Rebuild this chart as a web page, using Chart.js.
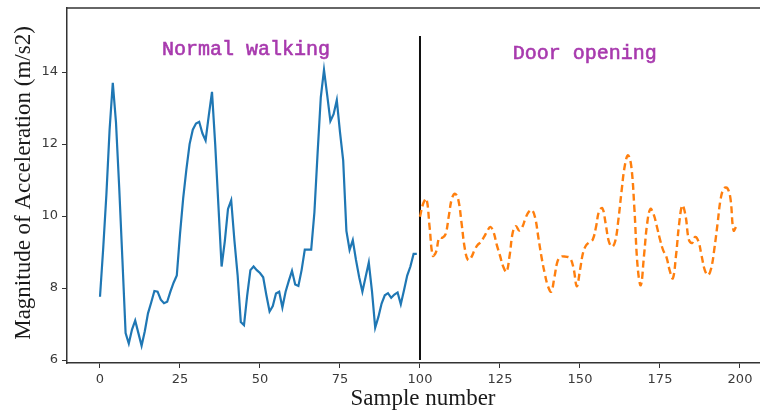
<!DOCTYPE html>
<html>
<head>
<meta charset="utf-8">
<script src="https://cdn.jsdelivr.net/npm/chart.js@4.4.1/dist/chart.umd.min.js"></script>
<style>
  html, body { margin: 0; padding: 0; background: #fff; }
  canvas { display: block; }
</style>
</head>
<body>
<canvas id="accChart" width="760" height="415"></canvas>
<script>
// acceleration magnitude, samples 0-99 (normal walking)
const walkStart = 0;
const walkValues = [
  7.76, 9.1, 10.6, 12.4, 13.7, 12.6, 10.8, 8.8, 6.75, 6.46,
  6.85, 7.1, 6.75, 6.4, 6.8, 7.3, 7.6, 7.92, 7.9, 7.68,
  7.58, 7.62, 7.9, 8.15, 8.35, 9.5, 10.5, 11.3, 12.0, 12.4,
  12.57, 12.62, 12.3, 12.1, 12.8, 13.45, 12.0, 10.3, 8.6, 9.3,
  10.2, 10.44, 9.33, 8.37, 7.06, 6.97, 7.8, 8.5, 8.6, 8.5,
  8.42, 8.3, 7.8, 7.35, 7.5, 7.85, 7.9, 7.46, 7.9, 8.2,
  8.48, 8.1, 8.06, 8.5, 9.07, 9.07, 9.07, 10.1, 11.75, 13.3,
  14.06, 13.36, 12.64, 12.83, 13.22, 12.33, 11.54, 9.59, 9.06, 9.33,
  8.78, 8.3, 7.9, 8.31, 8.71, 7.91, 6.9, 7.2, 7.57, 7.8,
  7.86, 7.73, 7.82, 7.88, 7.55, 7.94, 8.35, 8.6, 8.95, 8.95
];

// acceleration magnitude, samples 100-199 (door opening)
const doorStart = 100;
const doorValues = [
  9.98, 10.35, 10.48, 9.7, 8.9, 9.0, 9.4, 9.4, 9.5, 10.0,
  10.5, 10.62, 10.44, 9.8, 9.1, 8.78, 8.85, 9.05, 9.2, 9.28,
  9.42, 9.58, 9.7, 9.55, 9.2, 8.9, 8.6, 8.45, 8.9, 9.55,
  9.72, 9.6, 9.7, 9.95, 10.12, 10.17, 9.95, 9.4, 8.85, 8.4,
  8.05, 7.9, 8.3, 8.75, 8.87, 8.88, 8.87, 8.82, 8.55, 8.05,
  8.5, 9.0, 9.2, 9.28, 9.35, 9.7, 10.15, 10.22, 9.8, 9.3,
  9.15, 9.3, 9.9, 10.7, 11.4, 11.69, 11.4, 10.2, 8.6, 8.08,
  8.9, 9.8, 10.2, 10.05, 9.72, 9.35, 9.05, 8.87, 8.5, 8.27,
  8.9, 9.8, 10.3, 10.0, 9.35, 9.25, 9.42, 9.3, 8.9, 8.5,
  8.36, 8.55, 9.1, 9.8, 10.5, 10.77, 10.78, 10.5, 9.6, 9.75
];

// boundary between the two activities
const splitX = 100;
const splitRange = [6, 15];

const xTicks = [0, 25, 50, 75, 100, 125, 150, 175, 200];
const yTicks = [6, 8, 10, 12, 14];

const segmentLabels = ['Normal walking', 'Door opening'];
const segmentLabelX = [19.4, 129];
const segmentLabelY = [14.47, 14.36];

const xTitle = 'Sample number';
const yTitle = 'Magnitude of Acceleration (m/s2)';

function toPoints(start, values) {
  return values.map((v, i) => ({ x: start + i, y: v }));
}

// top spine, activity labels and axis titles
const overlay = {
  id: 'overlay',
  afterDraw(chart) {
    const { ctx, chartArea, scales: { x, y } } = chart;
    ctx.save();
    ctx.strokeStyle = '#333';
    ctx.lineWidth = 1.5;
    ctx.beginPath();
    ctx.moveTo(chartArea.left, chartArea.top);
    ctx.lineTo(chartArea.right, chartArea.top);
    ctx.stroke();

    ctx.font = '20px "Liberation Mono"';
    ctx.fillStyle = '#a83aae';
    ctx.strokeStyle = '#a83aae';
    ctx.lineWidth = 0.6;
    ctx.textBaseline = 'alphabetic';
    ctx.textAlign = 'left';
    segmentLabels.forEach((t, i) => {
      const px = x.getPixelForValue(segmentLabelX[i]);
      const py = y.getPixelForValue(segmentLabelY[i]);
      ctx.fillText(t, px, py);
      ctx.strokeText(t, px, py);
    });

    ctx.fillStyle = '#1a1a1a';
    ctx.font = '23px "Liberation Serif"';
    ctx.textAlign = 'center';
    ctx.textBaseline = 'middle';
    ctx.fillText(xTitle, 423, 399);

    ctx.translate(24, 183);
    ctx.rotate(-Math.PI / 2);
    ctx.fillText(yTitle, 0, 0);
    ctx.restore();
  }
};

const ctx = document.getElementById('accChart').getContext('2d');
const accChart = new Chart(ctx, {
  type: 'line',
  data: {
    datasets: [
      {
        label: 'walking',
        data: toPoints(walkStart, walkValues),
        borderColor: '#1f77b4',
        borderWidth: 2.2,
        pointRadius: 0,
        tension: 0
      },
      {
        label: 'door',
        data: toPoints(doorStart, doorValues),
        borderColor: '#ff7f0e',
        borderWidth: 2.4,
        borderDash: [7, 4],
        pointRadius: 0,
        tension: 0.4
      },
      {
        label: 'split',
        data: [{ x: splitX, y: splitRange[0] }, { x: splitX, y: splitRange[1] }],
        borderColor: '#111',
        borderWidth: 2,
        pointRadius: 0
      }
    ]
  },
  options: {
    responsive: false,
    animation: false,
    layout: { padding: { top: 8, left: 0, right: 0, bottom: 0 } },
    plugins: {
      legend: { display: false },
      tooltip: { enabled: false }
    },
    scales: {
      x: {
        type: 'linear',
        min: -10.31,
        max: 206.25,
        afterBuildTicks(scale) {
          scale.ticks = xTicks.map(v => ({ value: v }));
        },
        afterFit(scale) {
          scale.height = 52;
          scale.paddingLeft = 0;
          scale.paddingRight = 0;
        },
        grid: { drawOnChartArea: false, color: '#333', tickLength: 5 },
        border: { color: '#333', width: 1.5 },
        ticks: {
          color: '#3a3a3a',
          padding: 4,
          maxRotation: 0,
          font: { family: 'DejaVu Sans', size: 13 }
        }
      },
      y: {
        type: 'linear',
        min: 5.92,
        max: 15.78,
        afterBuildTicks(scale) {
          scale.ticks = yTicks.map(v => ({ value: v }));
        },
        afterFit(scale) {
          scale.width = 67;
          scale.paddingTop = 0;
          scale.paddingBottom = 0;
        },
        grid: { drawOnChartArea: false, color: '#333', tickLength: 5 },
        border: { color: '#333', width: 1.5 },
        ticks: {
          color: '#3a3a3a',
          padding: 4,
          font: { family: 'DejaVu Sans', size: 13 }
        }
      }
    }
  },
  plugins: [overlay]
});
</script>
</body>
</html>
